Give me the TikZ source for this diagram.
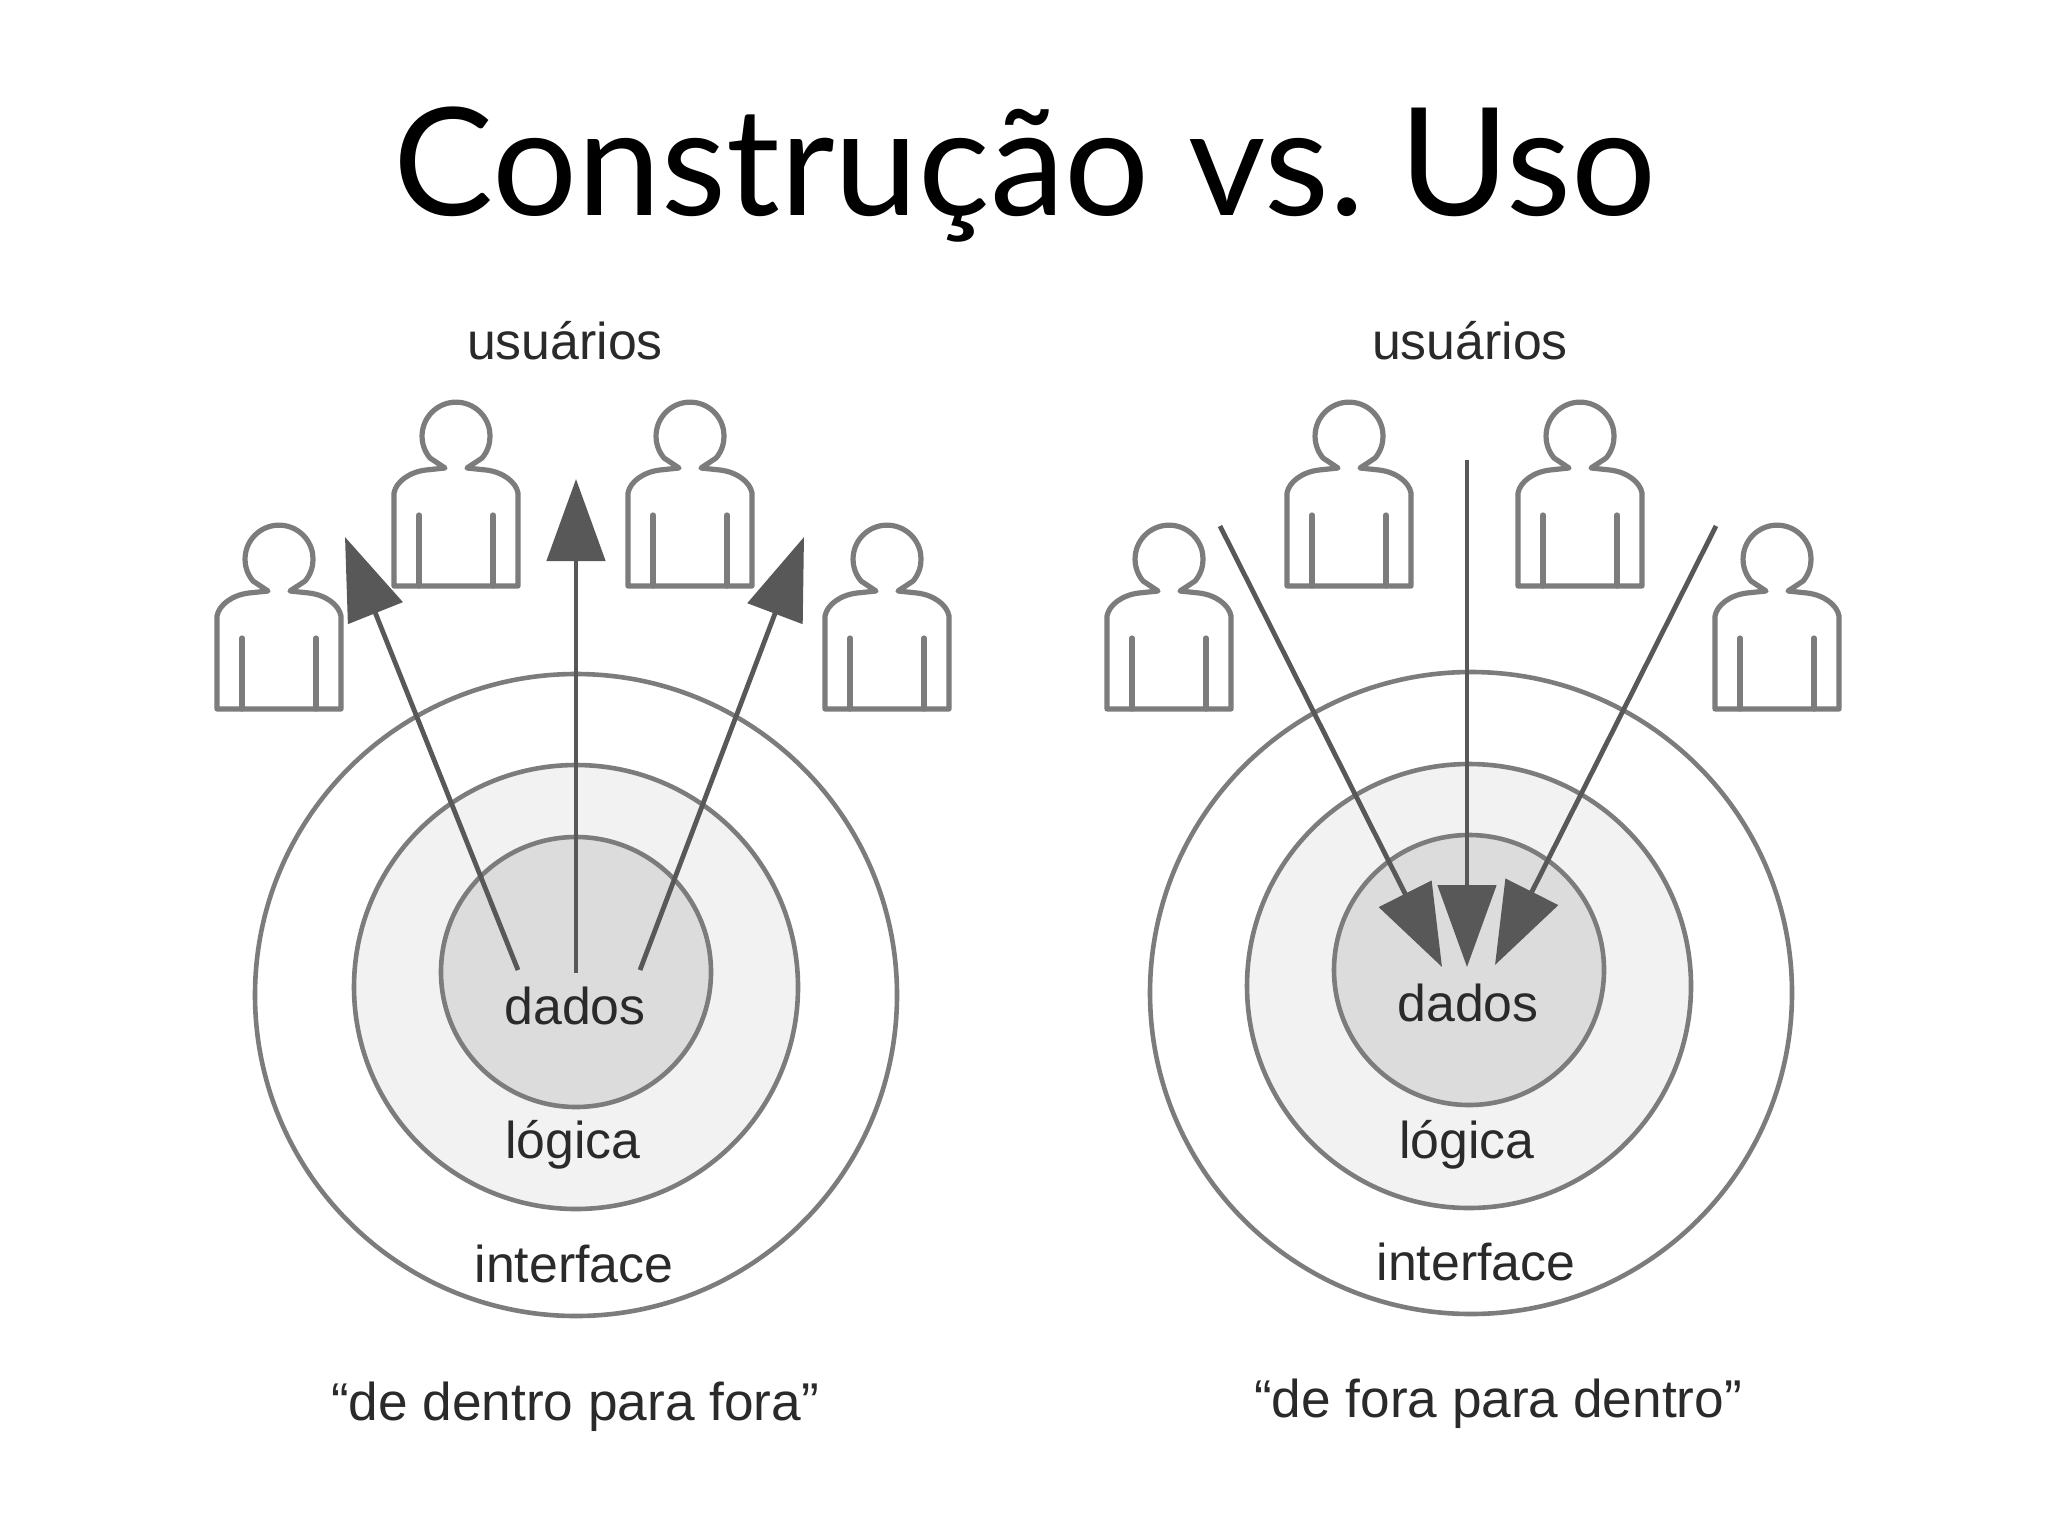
\documentclass[tikz,border=0pt]{standalone}
\usepackage{fontspec}
\setmainfont{Liberation Sans}
\newfontfamily\titlefont{Lato}
\usetikzlibrary{arrows.meta}
\definecolor{linegray}{HTML}{7C7C7C}
\definecolor{arrowgray}{HTML}{585858}
\definecolor{midfill}{HTML}{F2F2F2}
\definecolor{corefill}{HTML}{DCDCDC}
\definecolor{textdark}{HTML}{2A2A2A}
\tikzset{
  x=0.5pt,y=-0.5pt,
  ring/.style={circle,draw=linegray,line width=2.3pt,inner sep=0pt,outer sep=0pt},
  outerring/.style={ring,fill=white,minimum size=321pt},
  midring/.style={ring,fill=midfill,minimum size=222pt},
  corering/.style={ring,fill=corefill,minimum size=135pt},
  flow/.style={draw=arrowgray,line width=2.4pt,-{Triangle[length=41pt,width=29pt]}},
  label/.style={anchor=base,inner sep=0pt,text=textdark,font=\fontsize{25.9pt}{30pt}\selectfont},
  quotetext/.style={label,font=\fontsize{26.6pt}{30pt}\selectfont},
  titletext/.style={anchor=base,inner sep=0pt,text=black,font=\titlefont\fontsize{75pt}{90pt}\selectfont},
  person/.pic={
    \draw[draw=linegray,line width=2.6pt,line join=round]
      (-62,0) -- (-62,-93) .. controls (-60,-104) and (-47,-114) .. (-30,-116)
      -- (-11,-118) -- (-26,-128) arc[start angle=140,end angle=400,radius=34]
      -- (11,-118) -- (30,-116) .. controls (47,-114) and (60,-104) .. (62,-93)
      -- (62,0) -- cycle;
    \draw[draw=linegray,line width=2.6pt,line cap=round] (-37,0) -- (-37,-71);
    \draw[draw=linegray,line width=2.6pt,line cap=round] (37,0) -- (37,-71);
  }
}
\begin{document}
\begin{tikzpicture}
\useasboundingbox[fill=white] (0,0) rectangle (2048,1536);
\node[titletext] (title) at (1025,215) {Construção vs.\kern-8pt{} Uso};

% left diagram
\node[outerring] (lo) at (576,995) {};
\node[midring] (lm) at (576,987) {};
\node[corering] (lc) at (576,972) {};
% right diagram
\node[outerring] (ro) at (1471,993) {};
\node[midring] (rm) at (1469,986) {};
\node[corering] (rc) at (1469,970) {};

\pic (p1) at (279,709) {person};
\pic (p2) at (456,586) {person};
\pic (p3) at (690,586) {person};
\pic (p4) at (887,709) {person};
\pic (p5) at (1169,709) {person};
\pic (p6) at (1349,586) {person};
\pic (p7) at (1580,586) {person};
\pic (p8) at (1777,709) {person};

\coordinate (a1s) at (518,970);
\coordinate (a1e) at (345,537);
\coordinate (a2s) at (576,973);
\coordinate (a2e) at (576,479);
\coordinate (a3s) at (640,970);
\coordinate (a3e) at (804,537);
\coordinate (b1s) at (1220,526);
\coordinate (b1e) at (1442,967);
\coordinate (b2s) at (1467,460);
\coordinate (b2e) at (1467,967);
\coordinate (b3s) at (1716,526);
\coordinate (b3e) at (1495,965);
\draw[flow] (a1s) -- (a1e);
\draw[flow] (a2s) -- (a2e);
\draw[flow] (a3s) -- (a3e);
\draw[flow] (b1s) -- (b1e);
\draw[flow] (b2s) -- (b2e);
\draw[flow] (b3s) -- (b3e);

\node[label] (u1) at (565,359) {usuários};
\node[label] (u2) at (1470,359) {usuários};
\node[label] (d1) at (575,1024) {dados};
\node[label] (d2) at (1468,1021) {dados};
\node[label] (l1) at (573,1158) {lógica};
\node[label] (l2) at (1467,1158) {lógica};
\node[label] (i1) at (574,1282) {interface};
\node[label] (i2) at (1476,1280) {interface};
\node[quotetext] (q1) at (575,1420) {“de dentro para fora”};
\node[quotetext] (q2) at (1498,1417) {“de fora para dentro”};
\end{tikzpicture}
\end{document}
